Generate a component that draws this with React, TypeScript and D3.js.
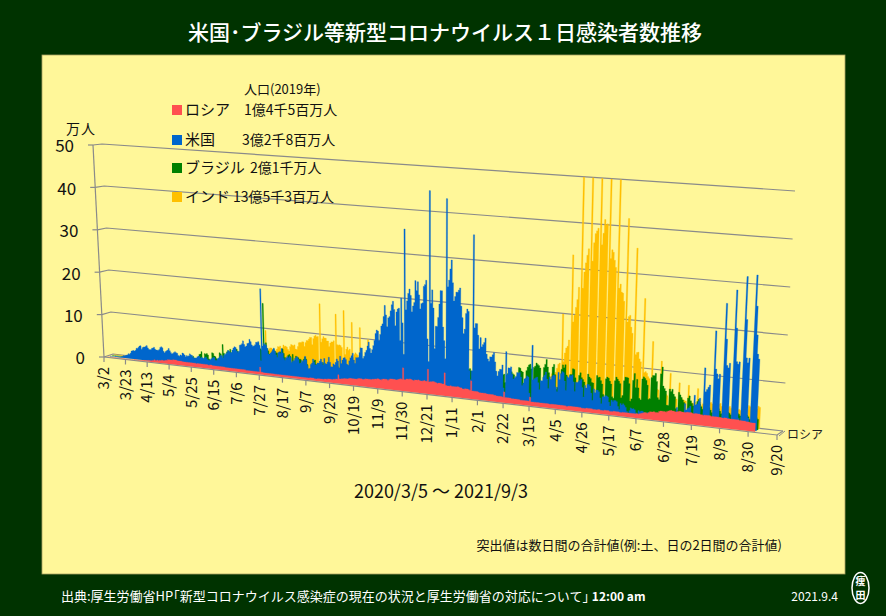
import * as d3 from 'd3';
import { useEffect, useRef } from 'react';

// daily new cases, thousand people, one row per week (Thu..Wed), 2020/3/5 - 2021/9/3
const firstDay = '2020-03-05';

const russia = [
  0, 0, 0, 0, 0, 0, 0,
  0, 0, 0, 0, 0, 0, 0,
  0, 0, 0, 0, 0, 0, 0,
  0, 0, 0, 0, 0, 1, 1,
  1, 1, 1, 1, 1, 1, 1,
  2, 2, 2, 2, 3, 3, 3,
  3, 4, 4, 6, 5, 5, 6,
  5, 6, 6, 7, 7, 6, 7,
  8, 8, 10, 10, 10, 10, 10,
  11, 11, 11, 11, 10, 10, 10,
  10, 10, 9, 9, 9, 9, 9,
  9, 9, 9, 9, 9, 9, 9,
  9, 8, 9, 9, 9, 9, 9,
  9, 9, 9, 9, 9, 8, 8,
  9, 9, 8, 8, 8, 8, 8,
  8, 8, 8, 8, 8, 8, 8,
  7, 7, 7, 7, 7, 7, 7,
  7, 7, 7, 7, 7, 7, 7,
  7, 7, 7, 7, 7, 6, 6,
  6, 6, 6, 6, 6, 6, 6,
  6, 6, 6, 6, 17, 6, 6,
  5, 5, 5, 5, 5, 5, 5,
  5, 5, 5, 5, 5, 5, 5,
  5, 5, 5, 5, 5, 5, 5,
  5, 5, 5, 5, 5, 5, 5,
  5, 5, 5, 5, 5, 5, 5,
  5, 5, 5, 5, 5, 5, 5,
  6, 6, 6, 6, 5, 5, 5,
  6, 6, 6, 6, 6, 6, 7,
  7, 7, 8, 8, 8, 8, 8,
  9, 9, 10, 10, 20, 11, 11,
  12, 12, 13, 13, 13, 13, 14,
  15, 15, 15, 15, 15, 15, 15,
  16, 17, 17, 17, 16, 16, 17,
  18, 18, 18, 18, 18, 18, 19,
  19, 20, 20, 21, 21, 20, 19,
  21, 22, 22, 22, 22, 20, 22,
  24, 24, 24, 24, 24, 23, 24,
  25, 26, 27, 26, 52, 26, 26,
  28, 28, 28, 29, 28, 27, 26,
  28, 28, 28, 29, 28, 27, 27,
  28, 29, 28, 28, 55, 27, 28,
  28, 29, 29, 28, 27, 26, 27,
  27, 27, 26, 26, 51, 24, 23,
  23, 23, 24, 23, 23, 23, 23,
  23, 24, 23, 22, 22, 20, 20,
  21, 21, 21, 20, 19, 40, 18,
  18, 18, 18, 18, 17, 16, 16,
  16, 16, 16, 16, 15, 15, 15,
  15, 15, 15, 14, 14, 13, 13,
  13, 13, 13, 12, 24, 12, 12,
  12, 12, 12, 11, 11, 11, 11,
  11, 11, 11, 10, 10, 10, 10,
  10, 10, 10, 10, 19, 9, 9,
  9, 9, 9, 9, 9, 9, 9,
  9, 9, 9, 9, 9, 9, 8,
  9, 9, 9, 9, 9, 9, 9,
  9, 9, 9, 9, 9, 8, 8,
  9, 9, 9, 9, 9, 9, 9,
  9, 9, 9, 8, 8, 8, 8,
  9, 9, 9, 9, 9, 8, 8,
  8, 8, 9, 9, 8, 8, 8,
  9, 9, 9, 9, 8, 8, 8,
  9, 9, 9, 9, 9, 8, 8,
  9, 9, 9, 9, 9, 9, 9,
  9, 9, 9, 9, 10, 9, 10,
  11, 12, 13, 14, 14, 13, 15,
  17, 17, 17, 18, 17, 17, 17,
  20, 21, 21, 21, 21, 20, 22,
  23, 24, 25, 24, 24, 23, 23,
  24, 25, 25, 24, 24, 24, 24,
  25, 25, 25, 25, 24, 23, 24,
  24, 24, 24, 23, 23, 22, 23,
  23, 23, 23, 23, 22, 22, 22,
  22, 22, 22, 22, 22, 21, 21,
  22, 22, 21, 21, 21, 21, 21,
  21, 21, 21, 21, 20, 20, 20,
  20, 20, 19, 19, 19, 18, 18,
  18, 18,
];

const usa = [
  0, 0, 0, 0, 0, 1, 1,
  1, 1, 1, 1, 2, 3, 5,
  5, 6, 7, 8, 11, 10, 13,
  18, 19, 20, 19, 21, 26, 26,
  29, 32, 33, 25, 29, 31, 31,
  33, 35, 30, 27, 26, 27, 30,
  31, 33, 29, 27, 27, 27, 29,
  34, 36, 34, 26, 23, 26, 28,
  30, 34, 29, 25, 22, 24, 26,
  28, 26, 25, 20, 19, 22, 21,
  27, 26, 23, 19, 22, 21, 22,
  27, 25, 24, 20, 18, 19, 19,
  22, 24, 24, 20, 22, 21, 20,
  22, 24, 20, 18, 17, 19, 21,
  23, 25, 25, 19, 19, 23, 25,
  28, 32, 31, 26, 32, 35, 37,
  40, 45, 43, 41, 41, 47, 52,
  55, 54, 46, 43, 46, 60, 61,
  64, 71, 63, 58, 60, 66, 67,
  76, 71, 64, 61, 62, 65, 71,
  71, 73, 65, 30, 195, 64, 70,
  68, 67, 60, 47, 46, 50, 53,
  58, 62, 55, 47, 42, 53, 55,
  52, 63, 53, 41, 37, 43, 46,
  44, 47, 45, 34, 37, 39, 44,
  46, 48, 43, 34, 35, 41, 39,
  43, 51, 43, 31, 24, 25, 34,
  37, 47, 40, 34, 35, 39, 39,
  44, 49, 42, 36, 51, 40, 39,
  44, 55, 44, 34, 34, 41, 39,
  45, 53, 49, 34, 60, 44, 52,
  57, 58, 54, 44, 42, 52, 59,
  64, 70, 55, 48, 61, 61, 62,
  73, 84, 84, 61, 66, 75, 80,
  90, 99, 85, 75, 83, 92, 104,
  120, 128, 126, 105, 119, 138, 143,
  160, 185, 164, 138, 158, 161, 174,
  188, 196, 178, 142, 173, 180, 182,
  110, 205, 150, 80, 360, 180, 200,
  217, 227, 213, 177, 190, 198, 247,
  225, 245, 216, 185, 197, 199, 236,
  240, 250, 120, 70, 450, 200, 230,
  190, 100, 150, 150, 170, 200, 230,
  230, 150, 120, 80, 435, 240, 255,
  280, 300, 250, 210, 220, 230, 230,
  235, 240, 200, 175, 140, 150, 185,
  195, 190, 60, 40, 60, 360, 155,
  165, 165, 140, 110, 135, 115, 120,
  125, 135, 100, 90, 85, 95, 95,
  100, 105, 85, 65, 55, 65, 70,
  70, 80, 30, 20, 110, 60, 75,
  75, 78, 62, 52, 55, 58, 67,
  66, 68, 58, 40, 45, 55, 57,
  62, 60, 25, 15, 130, 55, 58,
  60, 62, 50, 35, 55, 55, 63,
  68, 75, 60, 40, 65, 60, 67,
  70, 70, 45, 35, 77, 62, 75,
  80, 78, 60, 40, 70, 68, 73,
  73, 75, 60, 40, 60, 60, 62,
  65, 68, 50, 30, 55, 50, 58,
  58, 55, 40, 25, 50, 42, 48,
  48, 45, 32, 20, 35, 35, 38,
  38, 36, 25, 17, 30, 27, 30,
  30, 28, 18, 12, 25, 22, 25,
  22, 18, 10, 7, 12, 18, 16,
  17, 15, 9, 6, 14, 12, 14,
  14, 12, 7, 5, 12, 10, 12,
  12, 10, 5, 4, 12, 10, 11,
  12, 12, 5, 4, 15, 12, 13,
  15, 15, 4, 3, 2, 30, 18,
  20, 22, 6, 4, 40, 27, 30,
  32, 36, 8, 5, 60, 40, 42,
  48, 55, 10, 6, 120, 70, 75,
  80, 85, 12, 8, 200, 120, 110,
  100, 110, 15, 10, 260, 185, 130,
  125, 135, 20, 12, 290, 210, 140,
  135, 140, 22, 14, 320, 230, 150,
  140, 150, 25, 15, 325, 260, 200,
  160, 150,
];

const brazil = [
  0, 0, 0, 0, 0, 0, 0,
  0, 0, 0, 0, 0, 0, 0,
  0, 0, 0, 0, 0, 0, 0,
  1, 1, 1, 0, 0, 1, 1,
  1, 1, 1, 1, 1, 2, 2,
  2, 2, 1, 1, 1, 2, 3,
  3, 3, 3, 2, 2, 3, 3,
  4, 3, 5, 4, 4, 6, 6,
  7, 5, 5, 4, 6, 7, 10,
  10, 10, 10, 6, 6, 9, 12,
  14, 15, 14, 7, 13, 17, 19,
  18, 20, 16, 15, 11, 17, 20,
  26, 27, 33, 16, 11, 29, 28,
  30, 27, 18, 15, 15, 33, 32,
  26, 25, 21, 17, 20, 35, 33,
  23, 55, 35, 17, 21, 39, 42,
  40, 46, 38, 24, 25, 33, 47,
  48, 43, 38, 24, 21, 45, 44,
  43, 39, 40, 25, 20, 42, 39,
  45, 34, 28, 24, 21, 40, 68,
  60, 55, 52, 24, 160, 40, 70,
  57, 52, 45, 23, 16, 51, 57,
  53, 50, 49, 23, 22, 52, 55,
  60, 50, 41, 23, 19, 47, 49,
  45, 30, 50, 23, 17, 47, 42,
  44, 41, 41, 16, 10, 42, 47,
  43, 31, 14, 10, 14, 15, 35,
  41, 43, 33, 14, 13, 36, 34,
  35, 39, 33, 16, 15, 34, 32,
  31, 30, 28, 13, 14, 32, 33,
  34, 30, 26, 9, 14, 41, 31,
  27, 27, 17, 8, 10, 11, 24,
  26, 30, 24, 12, 13, 23, 24,
  29, 28, 26, 13, 16, 29, 24,
  26, 18, 10, 8, 10, 23, 21,
  22, 25, 17, 10, 10, 11, 24,
  33, 35, 29, 17, 13, 36, 32,
  35, 33, 18, 17, 16, 31, 40,
  37, 52, 29, 18, 60, 31, 48,
  50, 51, 41, 24, 21, 46, 51,
  53, 43, 43, 21, 25, 42, 69,
  60, 49, 48, 22, 70, 55, 55,
  47, 22, 19, 25, 20, 58, 56,
  55, 24, 15, 17, 60, 56, 62,
  87, 62, 65, 29, 24, 62, 63,
  69, 68, 61, 33, 23, 64, 59,
  60, 62, 57, 26, 35, 110, 63,
  61, 52, 49, 24, 24, 55, 55,
  54, 50, 41, 26, 25, 51, 58,
  59, 48, 43, 25, 21, 24, 51,
  56, 58, 40, 30, 60, 55, 66,
  65, 61, 59, 30, 35, 59, 76,
  75, 69, 67, 43, 38, 71, 79,
  84, 86, 76, 43, 80, 83, 90,
  87, 85, 80, 47, 49, 82, 89,
  100, 84, 72, 44, 39, 85, 91,
  69, 38, 42, 31, 29, 82, 92,
  86, 93, 71, 37, 38, 73, 73,
  86, 85, 67, 43, 33, 73, 79,
  69, 65, 60, 30, 33, 78, 72,
  69, 61, 60, 28, 24, 77, 73,
  74, 67, 60, 38, 30, 72, 76,
  74, 68, 62, 35, 32, 70, 78,
  74, 70, 65, 35, 40, 72, 80,
  80, 79, 67, 30, 35, 75, 90,
  60, 78, 60, 38, 35, 80, 85,
  82, 78, 68, 38, 40, 85, 90,
  90, 95, 78, 44, 40, 95, 110,
  70, 65, 60, 30, 30, 65, 60,
  65, 55, 50, 25, 22, 60, 55,
  50, 45, 40, 20, 18, 50, 55,
  45, 40, 35, 15, 15, 45, 50,
  40, 35, 30, 12, 12, 40, 45,
  35, 30, 25, 10, 12, 35, 40,
  35, 30, 25, 10, 10, 30, 35,
  30, 28, 25, 10, 10, 30, 32,
  30, 28, 25, 10, 10, 28, 30,
  28, 25, 20, 10, 10, 25, 28,
  25, 22,
];

const india = [
  0, 0, 0, 0, 0, 0, 0,
  0, 0, 0, 0, 0, 0, 0,
  0, 0, 0, 0, 0, 0, 0,
  0, 0, 0, 0, 0, 0, 0,
  0, 1, 0, 1, 1, 1, 1,
  1, 1, 1, 1, 2, 1, 1,
  1, 1, 2, 2, 2, 1, 1,
  2, 2, 2, 2, 2, 2, 2,
  2, 2, 3, 3, 4, 3, 3,
  3, 3, 4, 4, 4, 4, 4,
  4, 4, 5, 5, 5, 6, 6,
  6, 6, 7, 7, 7, 6, 6,
  7, 8, 8, 8, 8, 8, 9,
  10, 10, 10, 10, 9, 10, 10,
  11, 11, 12, 12, 11, 10, 13,
  13, 14, 16, 15, 14, 15, 16,
  17, 17, 19, 20, 19, 18, 19,
  21, 22, 23, 24, 24, 22, 23,
  27, 27, 27, 29, 29, 29, 32,
  35, 34, 38, 41, 40, 37, 45,
  49, 49, 48, 0, 96, 47, 52,
  55, 57, 57, 54, 52, 50, 52,
  56, 62, 61, 64, 53, 60, 67,
  64, 65, 63, 58, 55, 65, 70,
  69, 68, 70, 61, 60, 67, 76,
  77, 77, 79, 79, 69, 78, 83,
  83, 87, 91, 91, 75, 89, 95,
  97, 94, 95, 0, 170, 83, 91,
  96, 93, 93, 87, 87, 75, 83,
  86, 86, 89, 0, 150, 81, 80,
  81, 80, 76, 0, 160, 61, 73,
  78, 71, 74, 0, 135, 56, 63,
  67, 64, 62, 0, 125, 47, 54,
  56, 54, 50, 0, 100, 37, 44,
  48, 48, 47, 46, 39, 38, 50,
  50, 47, 45, 46, 39, 38, 48,
  47, 44, 41, 30, 29, 38, 45,
  46, 46, 45, 44, 37, 44, 44,
  43, 41, 42, 39, 32, 31, 36,
  36, 36, 37, 36, 32, 27, 32,
  30, 30, 30, 28, 23, 22, 26,
  25, 26, 25, 27, 25, 20, 24,
  24, 23, 19, 21, 17, 16, 21,
  21, 19, 19, 18, 16, 18, 20,
  21, 19, 19, 19, 16, 12, 15,
  16, 15, 15, 14, 10, 14, 16,
  15, 14, 14, 13, 9, 13, 13,
  18, 13, 14, 13, 9, 9, 11,
  13, 12, 12, 11, 12, 10, 12,
  12, 12, 12, 11, 9, 11, 12,
  13, 14, 14, 13, 11, 13, 14,
  16, 16, 16, 15, 12, 14, 18,
  17, 19, 18, 18, 15, 17, 22,
  23, 25, 25, 26, 24, 28, 36,
  39, 40, 43, 47, 40, 47, 53,
  59, 62, 62, 68, 56, 53, 72,
  81, 90, 93, 0, 200, 97, 116,
  127, 131, 145, 0, 330, 185, 200,
  217, 234, 261, 0, 530, 260, 295,
  315, 332, 346, 0, 670, 320, 360,
  380, 386, 392, 0, 720, 357, 382,
  412, 401, 403, 0, 696, 329, 348,
  343, 326, 311, 0, 544, 267, 276,
  259, 257, 240, 0, 418, 196, 208,
  211, 186, 173, 0, 356, 128, 133,
  134, 120, 114, 0, 250, 92, 94,
  91, 84, 80, 0, 160, 62, 67,
  62, 60, 58, 0, 120, 42, 50,
  54, 51, 48, 0, 96, 37, 45,
  48, 46, 43, 0, 78, 34, 45,
  43, 42, 41, 0, 75, 31, 41,
  38, 38, 41, 0, 70, 30, 42,
  35, 39, 39, 0, 69, 29, 43,
  44, 41, 41, 0, 80, 30, 42,
  44, 38, 39, 0, 65, 28, 38,
  40, 36, 38, 0, 59, 25, 35,
  36, 34, 35, 0, 55, 25, 37,
  46, 44, 46, 0, 87, 30, 41,
  47, 45,
];

const seriesNames = ['ロシア', '米国', 'ブラジル', 'インド'];
const populations = ['1億4千5百万人', '3億2千8百万人', '2億1千万人', '13億5千3百万人'];
const seriesColors = ['#FF5050', '#0066CC', '#008000', '#FFC000'];

const tickDates = [
  '2020-03-02', '2020-03-23', '2020-04-13', '2020-05-04', '2020-05-25', '2020-06-15', '2020-07-06',
  '2020-07-27', '2020-08-17', '2020-09-07', '2020-09-28', '2020-10-19', '2020-11-09', '2020-11-30',
  '2020-12-21', '2021-01-11', '2021-02-01', '2021-02-22', '2021-03-15', '2021-04-05', '2021-04-26',
  '2021-05-17', '2021-06-07', '2021-06-28', '2021-07-19', '2021-08-09', '2021-08-30', '2021-09-20',
];
const tickLabels = [
  '3/2', '3/23', '4/13', '5/4', '5/25', '6/15', '7/6', '7/27', '8/17', '9/7', '9/28', '10/19', '11/9', '11/30',
  '12/21', '1/11', '2/1', '2/22', '3/15', '4/5', '4/26', '5/17', '6/7', '6/28', '7/19', '8/9', '8/30', '9/20',
];
const yTicks = [0, 10, 20, 30, 40, 50];

const W = 886;
const H = 616;
const FONT = '"Noto Sans CJK JP", "Noto Sans", sans-serif';

type Pt = [number, number];

export default function App() {
  const svgRef = useRef<SVGSVGElement | null>(null);

  useEffect(() => {
    if (!svgRef.current) return;
    const svg = d3.select(svgRef.current);
    svg.selectAll('*').remove();

    svg.append('rect').attr('width', W).attr('height', H).attr('fill', '#003300');
    svg
      .append('rect')
      .attr('x', 42)
      .attr('y', 55)
      .attr('width', 803)
      .attr('height', 519)
      .attr('fill', '#FFF799')
      .attr('stroke', '#a8a060')
      .attr('stroke-width', 0.8);

    svg
      .append('text')
      .attr('x', 445)
      .attr('y', 40)
      .attr('text-anchor', 'middle')
      .attr('fill', '#fff')
      .attr('font-size', 21)
      .attr('font-weight', 500)
      .attr('font-family', FONT)
      .text('米国･ブラジル等新型コロナウイルス１日感染者数推移');

    const parse = d3.utcParse('%Y-%m-%d');
    const x = d3
      .scaleUtc()
      .domain([parse('2020-03-02') as Date, parse('2021-09-20') as Date])
      .range([0, 1]);
    const y = d3.scaleLinear().domain([0, 50]).range([0, 1]).clamp(true);

    // perspective of the 3D box: front plane (depth 0) and back wall (depth 1)
    const g = 0.143;
    const warp = (u: number) => (u * (1 - g)) / (1 - g * u);
    const front: Pt[] = [[104, 357], [777, 435], [93, 145], [789, 195]];
    const back: Pt[] = [[113, 354], [783, 431], [102, 144], [795, 191]];
    const bil = (c: Pt[], s: number, w: number): Pt => {
      const k = (i: 0 | 1) =>
        (1 - s) * (1 - w) * c[0][i] + s * (1 - w) * c[1][i] + (1 - s) * w * c[2][i] + s * w * c[3][i];
      return [k(0), k(1)];
    };
    const proj = (d: Date, v: number, z: number): Pt => {
      const s = warp(x(d));
      const w = y(v);
      const f = bil(front, s, w);
      const b = bil(back, s, w);
      return [f[0] + (b[0] - f[0]) * z, f[1] + (b[1] - f[1]) * z];
    };
    const [d0, d1] = x.domain();
    const line = d3.line();
    const grid = '#8a8a8a';

    // back wall gridlines + side wall
    yTicks.forEach((v) => {
      svg
        .append('path')
        .attr('d', line([proj(d0, v, 0), proj(d0, v, 1), proj(d1, v, 1)]))
        .attr('fill', 'none')
        .attr('stroke', grid)
        .attr('stroke-width', 1.2);
    });

    // series, back to front
    const dataSets = [russia, usa, brazil, india];
    const depth = [0.125, 0.375, 0.625, 0.875];
    const start = parse(firstDay) as Date;
    [3, 2, 1, 0].forEach((si) => {
      const vals = dataSets[si];
      const z = depth[si];
      const pts: Pt[] = [];
      vals.forEach((val, i) => {
        const day = d3.utcDay.offset(start, i);
        const a = d3.utcHour.offset(day, -12);
        const b = d3.utcHour.offset(day, 12);
        const v = val / 10;
        if (i === 0) pts.push(proj(a, 0, z));
        pts.push(proj(a, v, z), proj(b, v, z));
        if (i === vals.length - 1) pts.push(proj(b, 0, z));
      });
      svg
        .append('path')
        .attr('d', line(pts) + 'Z')
        .attr('fill', seriesColors[si])
        .attr('stroke', seriesColors[si])
        .attr('stroke-width', 0.3);
    });

    // floor edges and axes
    svg
      .append('path')
      .attr('d', line([proj(d0, 0, 0), proj(d1, 0, 0), proj(d1, 0, 1)]))
      .attr('fill', 'none')
      .attr('stroke', grid)
      .attr('stroke-width', 1.2);
    svg
      .append('path')
      .attr('d', line([proj(d0, 0, 0), proj(d0, 50, 0)]))
      .attr('fill', 'none')
      .attr('stroke', grid)
      .attr('stroke-width', 1.2);
    const fr = proj(d1, 0, 0);
    svg
      .append('path')
      .attr('d', line([[fr[0] + 2, fr[1] + 1], [fr[0] + 8, fr[1] - 4]]))
      .attr('stroke', grid)
      .attr('stroke-width', 1);
    svg
      .append('text')
      .attr('x', fr[0] + 10)
      .attr('y', fr[1] + 4)
      .attr('font-size', 12)
      .attr('font-family', FONT)
      .attr('fill', '#222')
      .text('ロシア');

    // y axis
    yTicks.forEach((v) => {
      const p = proj(d0, v, 0);
      svg
        .append('path')
        .attr('d', line([[p[0] - 5, p[1]], p]))
        .attr('stroke', grid)
        .attr('stroke-width', 1.2);
      svg
        .append('text')
        .attr('x', p[0] - 19)
        .attr('y', p[1] + 1.5)
        .attr('dy', '0.35em')
        .attr('text-anchor', 'end')
        .attr('font-size', 17)
        .attr('font-family', FONT)
        .attr('fill', '#111')
        .text(String(v));
    });
    svg
      .append('text')
      .attr('x', 81)
      .attr('y', 134)
      .attr('text-anchor', 'middle')
      .attr('font-size', 14)
      .attr('letter-spacing', 1)
      .attr('font-family', FONT)
      .attr('fill', '#111')
      .text('万人');

    // x axis
    tickDates.forEach((ds, i) => {
      const p = proj(parse(ds) as Date, 0, 0);
      svg
        .append('path')
        .attr('d', line([p, [p[0], p[1] + 5]]))
        .attr('stroke', grid)
        .attr('stroke-width', 1.2);
      svg
        .append('text')
        .attr('transform', `translate(${p[0]},${p[1] + 10}) rotate(-90)`)
        .attr('dy', '0.35em')
        .attr('text-anchor', 'end')
        .attr('font-size', 15)
        .attr('font-family', FONT)
        .attr('fill', '#111')
        .text(tickLabels[i]);
    });

    svg
      .append('text')
      .attr('x', 441)
      .attr('y', 498)
      .attr('text-anchor', 'middle')
      .attr('font-size', 18)
      .attr('font-family', FONT)
      .attr('fill', '#111')
      .text('2020/3/5 ～ 2021/9/3');

    // legend
    svg
      .append('text')
      .attr('x', 244)
      .attr('y', 94)
      .attr('font-size', 13)
      .attr('font-family', FONT)
      .attr('fill', '#111')
      .text('人口(2019年)');
    const rowY = [110, 140, 168, 197];
    const popX = [244, 242, 250, 233];
    seriesNames.forEach((name, i) => {
      svg
        .append('rect')
        .attr('x', 172)
        .attr('y', rowY[i] - 5)
        .attr('width', 10)
        .attr('height', 10)
        .attr('fill', seriesColors[i]);
      svg
        .append('text')
        .attr('x', 185)
        .attr('y', rowY[i])
        .attr('dy', '0.36em')
        .attr('font-size', 15)
        .attr('font-family', FONT)
        .attr('fill', '#111')
        .text(name);
      svg
        .append('text')
        .attr('x', popX[i])
        .attr('y', rowY[i])
        .attr('dy', '0.36em')
        .attr('font-size', 14)
        .attr('font-family', FONT)
        .attr('fill', '#111')
        .text(populations[i]);
    });

    svg
      .append('text')
      .attr('x', 782)
      .attr('y', 550)
      .attr('text-anchor', 'end')
      .attr('font-size', 13)
      .attr('font-family', FONT)
      .attr('fill', '#111')
      .text('突出値は数日間の合計値(例:土、日の2日間の合計値)');

    // footer
    const src = svg
      .append('text')
      .attr('x', 61)
      .attr('y', 601)
      .attr('font-size', 13)
      .attr('font-family', FONT)
      .attr('fill', '#fff');
    src.append('tspan').text('出典:厚生労働省HP｢新型コロナウイルス感染症の現在の状況と厚生労働省の対応について｣ ');
    src.append('tspan').attr('font-weight', 'bold').attr('font-size', 12).text(' 12:00 am');

    svg
      .append('text')
      .attr('x', 838)
      .attr('y', 601)
      .attr('text-anchor', 'end')
      .attr('font-size', 12)
      .attr('font-family', FONT)
      .attr('fill', '#fff')
      .text('2021.9.4');
    svg
      .append('ellipse')
      .attr('cx', 860.5)
      .attr('cy', 588)
      .attr('rx', 8.5)
      .attr('ry', 15.5)
      .attr('fill', 'none')
      .attr('stroke', '#fff')
      .attr('stroke-width', 1.5);
    ['痩', '田'].forEach((c, i) => {
      svg
        .append('text')
        .attr('x', 860.5)
        .attr('y', 581 + i * 14)
        .attr('dy', '0.36em')
        .attr('text-anchor', 'middle')
        .attr('font-size', 10)
        .attr('font-weight', 'bold')
        .attr('font-family', FONT)
        .attr('fill', '#fff')
        .text(c);
    });
  }, []);

  return (
    <svg
      ref={svgRef}
      width={W}
      height={H}
      style={{ position: 'absolute', left: 0, top: 0, display: 'block' }}
    ></svg>
  );
}
